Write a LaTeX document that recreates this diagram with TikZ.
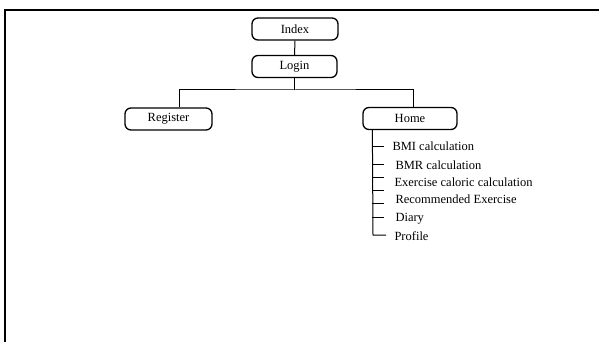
\documentclass[tikz,border=0pt]{standalone}
\usepackage{fontspec}
\setmainfont{Liberation Serif}
\usetikzlibrary{positioning}

\begin{document}
\begin{tikzpicture}[x=1pt, y=-1pt, line width=1pt,
    font=\fontsize{12.5pt}{15pt}\selectfont,
    pagebox/.style={draw, rounded corners=6pt, line width=1.3pt, minimum height=22pt, inner sep=0pt},
    item/.style={anchor=west, inner sep=0pt, text height=1.6ex, text depth=.3ex}]
    \useasboundingbox (0,0) rectangle (599,342);
    \draw[line width=2.2pt] (5,345) -- (5,10) -- (602,10);

    \node[pagebox, minimum width=86pt](Index)    at (295, 29)   {Index};
    \node[pagebox, minimum width=85pt](Login)    at (294.5, 66.5) {Login};
    \node[pagebox, minimum width=87pt](Register) at (168.5, 119) {Register};
    \node[pagebox, minimum width=94pt](Home)     at (410, 118.5) {Home};

    \node[item](BMI)     at (392, 148) {BMI calculation};
    \node[item](BMR)     at (395, 167) {BMR calculation};
    \node[item](Caloric) at (394, 184) {Exercise caloric calculation};
    \node[item](Recom)   at (395, 200.5) {Recommended Exercise};
    \node[item](Diary)   at (395, 219) {Diary};
    \node[item](Profile) at (394, 238) {Profile};

    \coordinate(bar)    at (294.5, 90);
    \coordinate(trunk)  at ([xshift=10pt]Home.south west);
    \coordinate(corner) at (373, 235);

    \draw (Index) -- (Login);
    \draw (Login) -- (bar);
    \draw ([xshift=10.5pt]Register.north) |- (bar) -| ([xshift=3pt]Home.north);
    \draw (trunk) -- (corner) -- ([xshift=-8pt]Profile.west |- corner);
    \foreach \y in {146,164,177,190,203,217}
      \draw (trunk |- 0,\y) -- +(12,0);
  \end{tikzpicture}
\end{document}
